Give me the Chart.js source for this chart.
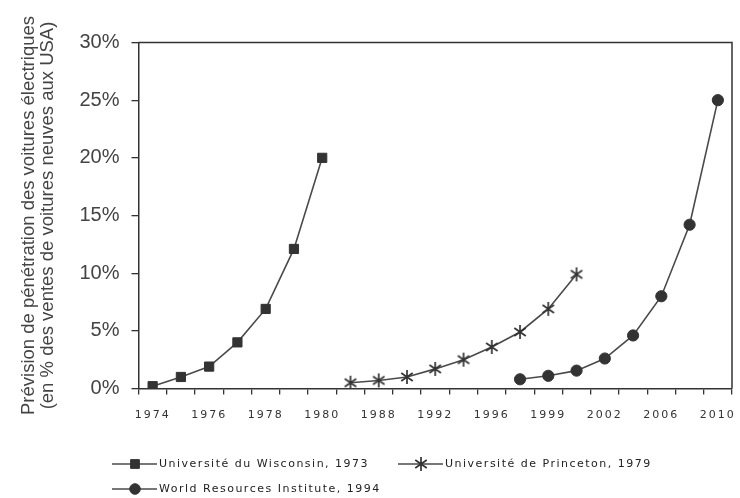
<!DOCTYPE html>
<html>
<head>
<meta charset="utf-8">
<script src="https://cdn.jsdelivr.net/npm/chart.js@4.4.1/dist/chart.umd.min.js"></script>
<style>
  html, body { margin: 0; padding: 0; background: #fff; }
  #wrap { width: 740px; height: 498px; position: relative; }
</style>
</head>
<body>
<div id="wrap"><canvas id="chart"></canvas></div>
<script>
// one slot per category on the x axis, only every other one is labelled
const slotLabels = ['1974', '', '1976', '', '1978', '', '1980', '', '1988', '', '1992', '',
  '1996', '', '1999', '', '2002', '', '2006', '', '2010'];

const wisconsin = [0.2, 1.0, 1.9, 4.0, 6.9, 12.1, 20.0];
const wisconsinStart = 0;
const princeton = [0.5, 0.7, 1.0, 1.7, 2.5, 3.6, 4.9, 6.9, 9.9];
const princetonStart = 7;
const wri = [0.8, 1.1, 1.55, 2.6, 4.6, 8.0, 14.2, 25.0];
const wriStart = 13;

const seriesNames = ['Université du Wisconsin, 1973', 'Université de Princeton, 1979', 'World Resources Institute, 1994'];
const yTicks = [0, 5, 10, 15, 20, 25, 30];

const lineColor = '#4a4a4a';
const markColor = '#333';

function pad(values, start) {
  const out = new Array(slotLabels.length).fill(null);
  values.forEach((v, i) => { out[start + i] = v; });
  return out;
}

// asterisk marker : vertical bar + an X
function makeStar(size) {
  const c = document.createElement('canvas');
  c.width = size; c.height = size;
  const g = c.getContext('2d');
  const m = size / 2, r = size / 2 - 1;
  g.strokeStyle = markColor;
  g.lineWidth = 1.7;
  g.beginPath();
  g.moveTo(m, m - r); g.lineTo(m, m + r);
  const a = 35 * Math.PI / 180;
  g.moveTo(m - r * Math.cos(a), m - r * Math.sin(a)); g.lineTo(m + r * Math.cos(a), m + r * Math.sin(a));
  g.moveTo(m - r * Math.cos(a), m + r * Math.sin(a)); g.lineTo(m + r * Math.cos(a), m - r * Math.sin(a));
  g.stroke();
  return c;
}
const star = makeStar(16);

const markers = [
  {pointStyle: 'rect', radius: 6.5},
  {pointStyle: star, radius: 7},
  {pointStyle: 'circle', radius: 5.6},
];

const datasets = [
  pad(wisconsin, wisconsinStart),
  pad(princeton, princetonStart),
  pad(wri, wriStart),
].map((data, i) => ({
  label: seriesNames[i],
  data,
  borderColor: lineColor,
  borderWidth: 1.6,
  backgroundColor: markColor,
  pointBackgroundColor: markColor,
  pointBorderColor: markColor,
  pointBorderWidth: 1,
  pointStyle: markers[i].pointStyle,
  pointRadius: markers[i].radius,
  pointHoverRadius: markers[i].radius,
  tension: 0,
  spanGaps: false,
}));

const frameAndLegend = {
  id: 'frameAndLegend',
  afterLayout(chart) {
    const xs = chart.scales.x;
    if (!xs._spaced) {
      const orig = xs.drawLabels;
      xs.drawLabels = function (area) {
        const c = this.ctx;
        c.save();
        c.letterSpacing = '2px';
        orig.call(this, area);
        c.restore();
      };
      xs._spaced = true;
    }
  },
  beforeDatasetsDraw(chart) {
    const {ctx, chartArea: a} = chart;
    ctx.save();
    ctx.strokeStyle = '#333';
    ctx.lineWidth = 1.5;
    ctx.beginPath();
    ctx.moveTo(a.left, a.top); ctx.lineTo(a.right, a.top); ctx.lineTo(a.right, a.bottom);
    ctx.stroke();
    ctx.restore();
  },
  afterDraw(chart) {
    const ctx = chart.ctx;
    const spots = [[112, 464], [398, 464], [112, 489]];
    ctx.save();
    ctx.font = '11px "DejaVu Sans"';
    ctx.letterSpacing = '1.5px';
    ctx.textBaseline = 'middle';
    chart.data.datasets.forEach((ds, i) => {
      const [x, y] = spots[i];
      ctx.strokeStyle = lineColor;
      ctx.lineWidth = 1.6;
      ctx.beginPath(); ctx.moveTo(x, y); ctx.lineTo(x + 45, y); ctx.stroke();
      ctx.fillStyle = markColor;
      ctx.strokeStyle = markColor;
      ctx.lineWidth = 1;
      Chart.helpers.drawPoint(ctx, {pointStyle: ds.pointStyle, radius: ds.pointRadius - 0.3, rotation: 0, borderWidth: 1}, x + 23, y);
      ctx.fillStyle = '#222';
      ctx.fillText(ds.label, x + 47, y);
    });
    ctx.restore();
  }
};

new Chart(document.getElementById('chart'), {
  type: 'line',
  data: {labels: slotLabels, datasets},
  options: {
    responsive: true,
    maintainAspectRatio: false,
    animation: false,
    layout: {padding: {top: 42.5, right: 4, bottom: 69.5, left: 0}},
    plugins: {legend: {display: false}, tooltip: {enabled: false}},
    scales: {
      x: {
        type: 'category',
        offset: true,
        afterFit(scale) { scale.height = 40; scale.paddingLeft = 0; scale.paddingRight = 0; },
        grid: {offset: true, drawOnChartArea: false, drawTicks: true, tickLength: 6, color: '#333', lineWidth: 1.3},
        border: {display: true, color: '#333', width: 1.5},
        ticks: {autoSkip: false, maxRotation: 0, padding: 14.5, color: '#333', font: {family: 'DejaVu Sans', size: 11}},
      },
      y: {
        min: 0,
        max: 30,
        afterBuildTicks(scale) { scale.ticks = yTicks.map(v => ({value: v})); },
        afterFit(scale) { scale.width = 138.5; },
        grid: {drawOnChartArea: false, drawTicks: true, tickLength: 7, color: '#333', lineWidth: 1.3},
        border: {display: true, color: '#333', width: 1.5},
        ticks: {padding: 12, color: '#444', font: {family: 'Liberation Sans', size: 20}, callback: v => v + '%'},
        title: {
          display: true,
          text: ['Prévision de pénétration des voitures électriques', '(en % des ventes de voitures neuves aux USA)'],
          color: '#444',
          font: {family: 'Liberation Sans', size: 18.5, lineHeight: 1.05},
          padding: {top: 19, bottom: 16},
        },
      },
    },
  },
  plugins: [frameAndLegend],
});
</script>
</body>
</html>
